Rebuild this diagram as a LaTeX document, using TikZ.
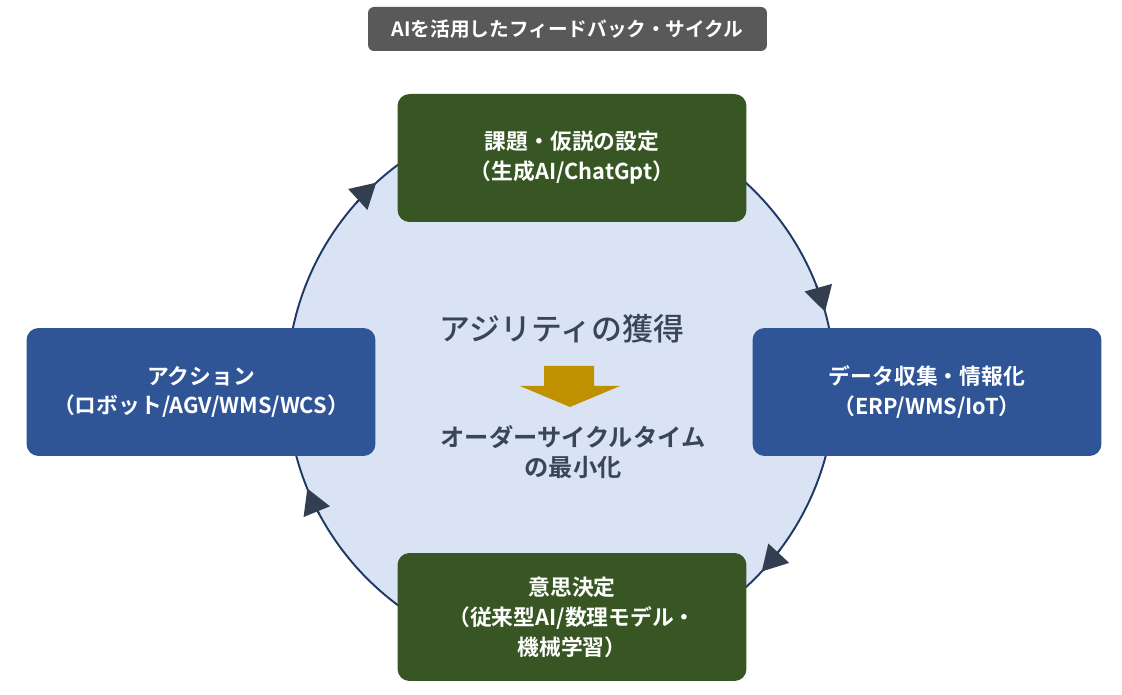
\documentclass[tikz,border=0pt]{standalone}
\usepackage{fontspec}
\setmainfont{Noto Sans CJK JP}[BoldFont={Noto Sans CJK JP Bold}]
\newfontfamily\mediumfont{Noto Sans CJK JP Medium}
\usepackage{xcolor}
\usepackage{tikz}
\usetikzlibrary{arrows.meta}

\definecolor{boxgreen}{HTML}{375623}
\definecolor{boxblue}{HTML}{2F5597}
\definecolor{titlegray}{HTML}{595959}
\definecolor{ringfill}{HTML}{DAE3F3}
\definecolor{ringline}{HTML}{203864}
\definecolor{tipcol}{HTML}{333F50}
\definecolor{textcol}{HTML}{3A4656}
\definecolor{gold}{HTML}{BF9000}

\tikzset{
  cyclebox/.style={rounded corners=0.24cm, minimum width=6.98cm, minimum height=2.56cm,
    text=white, align=center, font=\fontsize{12.4}{17}\selectfont\bfseries, inner sep=0pt},
  greenbox/.style={cyclebox, fill=boxgreen},
  bluebox/.style={cyclebox, fill=boxblue},
  titlebox/.style={rounded corners=0.12cm, fill=titlegray, minimum width=7.98cm, minimum height=0.88cm,
    text=white, font=\fontsize{11.2}{13}\selectfont\bfseries, inner sep=0pt},
  cyclearrow/.style={draw=none, -{Triangle[length=0.5cm, width=0.56cm, fill=tipcol, color=tipcol]}},
}

\begin{document}
\begin{tikzpicture}[x=0.02cm, y=0.02cm]
    \useasboundingbox (0,0) rectangle (1122,695);
    \coordinate (C) at (561,310);
    % ring
    \filldraw[fill=ringfill, draw=ringline, line width=1.1pt] (C) circle (274);
    \foreach \a in {132.4, 15.5, -42.9, 202.2}
      \draw[cyclearrow, draw=ringline, line width=1.1pt] (C) ++(\a+6:274) arc (\a+6:\a:274);
    % title
    \node[titlebox] (title) at (567.5,666) {AIを活用したフィードバック・サイクル};
    % four steps
    \node[greenbox] (plan) at (572,537) {課題・仮説の設定\\（生成AI/ChatGpt）};
    \node[bluebox] (data) at (927,303) {データ収集・情報化\\（ERP/WMS/IoT）};
    \node[greenbox] (decide) at (572,78) {意思決定\\（従来型AI/数理モデル・\\機械学習）};
    \node[bluebox] (act) at (201,303) {アクション\\（ロボット/AGV/WMS/WCS）};
    % centre
    \node[text=textcol, font=\fontsize{17.6}{20}\selectfont\mediumfont] (goal) at (562,366) {アジリティの獲得};
    \fill[gold] (544,329) -- (594,329) -- (594,309) -- (620,309) -- (570,288)
      -- (520,309) -- (544,309) -- cycle;
    \node[text=textcol, align=center, font=\fontsize{13.8}{17.4}\selectfont\bfseries] (result) at (573,243)
      {オーダーサイクルタイム\\の最小化};
\end{tikzpicture}
\end{document}
